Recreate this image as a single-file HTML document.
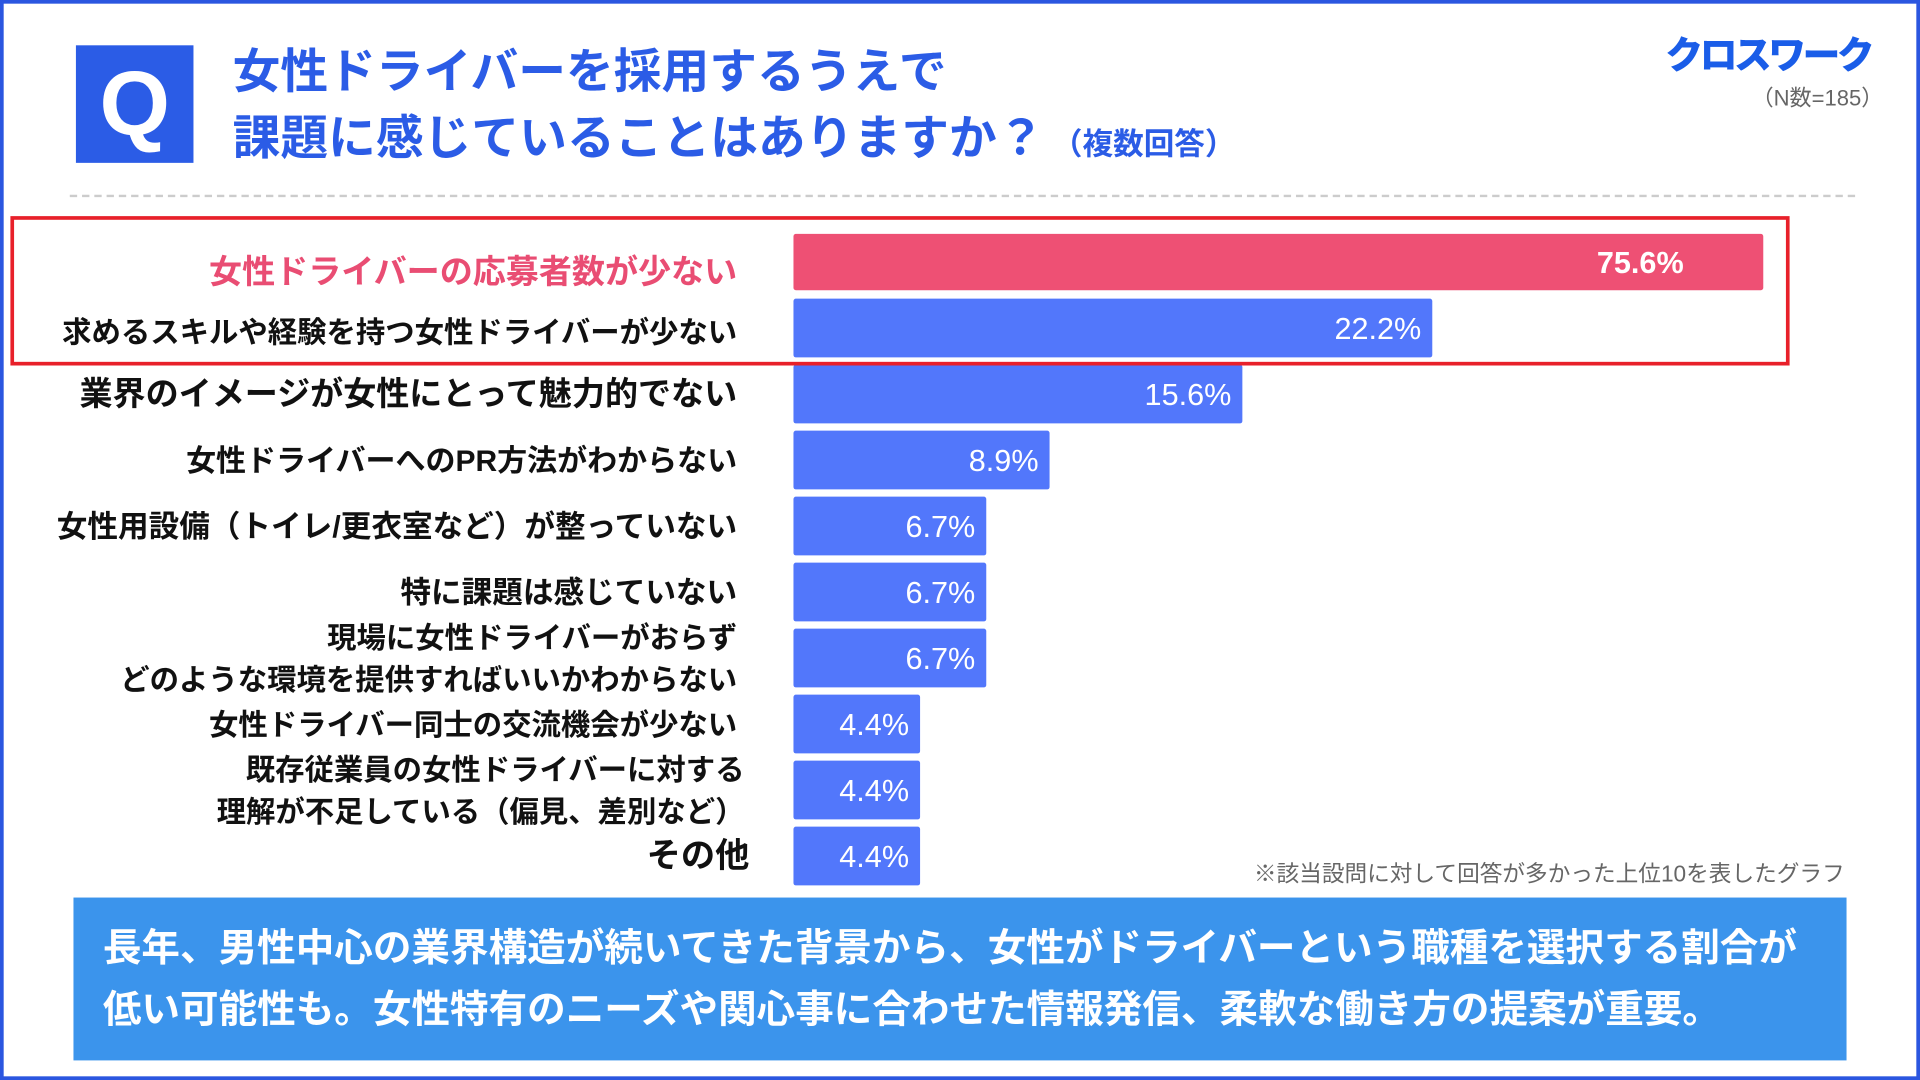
<!DOCTYPE html>
<html><head><meta charset="utf-8"><style>
html,body{margin:0;padding:0;width:1920px;height:1080px;overflow:hidden;background:#fff}
#s{position:absolute;left:0;top:0;width:1568px;height:882px;transform:scale(1.22449);transform-origin:0 0;font-family:"Liberation Sans","Noto Sans CJK JP",sans-serif}
.a{position:absolute;white-space:nowrap}
</style></head><body>
<div id="s">
<div class="a" style="left:0;top:0;width:1562px;height:876px;border:3px solid #2b56e0"></div>
<div class="a" style="left:62px;top:37px;width:96px;height:96px;background:#2b5ce6;color:#fff;font-weight:bold;font-size:74px;line-height:96px;text-align:center">Q</div>
<div class="a" style="left:190px;top:33px;color:#2b5ce6;font-weight:bold;font-size:39px;line-height:54px">女性ドライバーを採用するうえで<br>課題に感じていることはありますか？<span style="font-size:25px;margin-left:6px">（複数回答）</span></div>
<div class="a" style="right:40px;top:20px;color:#1a5de8;font-weight:900;font-size:31px;letter-spacing:-3px">クロスワーク</div>
<div class="a" style="right:30px;top:66px;color:#666;font-size:18px">（N数=185）</div>
<div class="a" style="left:57px;top:159px;width:1458px;border-top:2px dashed #ccc"></div>
<svg class="a" id="chart" style="left:0;top:0" width="1568" height="882"></svg>
<div class="a" style="left:1024px;top:700px;color:#666;font-size:18.5px">※該当設問に対して回答が多かった上位10を表したグラフ</div>
<div class="a" style="left:60px;top:733px;width:1448px;height:133px;background:#3b94ec;color:#fff;font-weight:bold;font-size:31.5px;line-height:50px;padding:16px 0 0 24px;box-sizing:border-box;white-space:normal">長年、男性中心の業界構造が続いてきた背景から、女性がドライバーという職種を選択する割合が<br>低い可能性も。女性特有のニーズや関心事に合わせた情報発信、柔軟な働き方の提案が重要。</div>
</div>
<script>
const categories=["女性ドライバーの応募者数が少ない","求めるスキルや経験を持つ女性ドライバーが少ない","業界のイメージが女性にとって魅力的でない","女性ドライバーへのPR方法がわからない","女性用設備（トイレ/更衣室など）が整っていない","特に課題は感じていない","現場に女性ドライバーがおらず|どのような環境を提供すればいいかわからない","女性ドライバー同士の交流機会が少ない","既存従業員の女性ドライバーに対する|理解が不足している（偏見、差別など）","その他"];
const values=[75.6,22.2,15.6,8.9,6.7,6.7,6.7,4.4,4.4,4.4];
const valueLabels=["75.6%","22.2%","15.6%","8.9%","6.7%","6.7%","6.7%","4.4%","4.4%","4.4%"];
const svg=document.getElementById('chart');const NS='http://www.w3.org/2000/svg';
const x0=648,pxPer=23.5,maxW=792;
function xw(v){return Math.min(v*pxPer,maxW);}
function yc(i){return 214+i*53.9;}
function mk(t,a){const e=document.createElementNS(NS,t);for(const k in a)e.setAttribute(k,a[k]);svg.appendChild(e);return e;}
const fs=[27,24,27,24.5,25,25,24,24,24,28];
const dy=[8,3,0,0,0,0,0,0,0,0];
values.forEach((v,i)=>{
 const w=xw(v),c=yc(i),h=i==0?46:48;
 const r=mk('rect',{x:x0,y:c-h/2,width:w,height:h,rx:2,fill:i==0?'#ee5074':'#5277fb'});
 
 
 const t=mk('text',{x:x0+w-(i==0?65:9),y:c+9,'text-anchor':'end',fill:'#fff','font-size':25,'font-weight':i==0?'bold':'normal'});
 t.textContent=valueLabels[i];
 
 
 const lines=categories[i].split('|');
 lines.forEach((ln,j)=>{
  const l=mk('text',{x:i==9?612:(i==8?608:602),y:c+9+dy[i]+(lines.length>1?(j-0.5)*34:0),'text-anchor':'end',fill:i==0?'#e94d73':'#111','font-size':fs[i],'font-weight':'bold'});
  l.textContent=ln;
  
  
 });
});
const hl=mk('rect',{x:10,y:178,width:1450,height:119,fill:'none',stroke:'#e8202a','stroke-width':3});


</script>
</body></html>
